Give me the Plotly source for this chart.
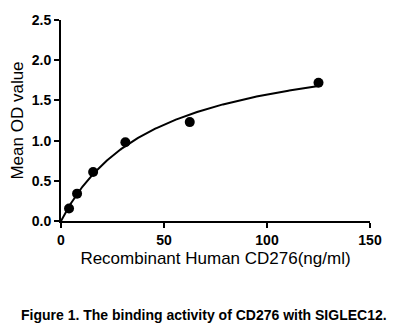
import numpy as np
import plotly.graph_objects as go

# Data
conc = [3.9, 7.8, 15.6, 31.25, 62.5, 125.0]
od = [0.155, 0.34, 0.61, 0.98, 1.23, 1.72]
x_ticks = [0, 50, 100, 150]
y_ticks = [0.0, 0.5, 1.0, 1.5, 2.0, 2.5]
y_tick_text = ["0.0", "0.5", "1.0", "1.5", "2.0", "2.5"]

# One-site binding fit (Bmax*x/(Kd+x)) via least squares grid over Kd
xs = np.array(conc)
ys = np.array(od)
best = None
for kd in np.linspace(1, 200, 4000):
    f = xs / (kd + xs)
    bmax = (f @ ys) / (f @ f)
    err = np.sum((bmax * f - ys) ** 2)
    if best is None or err < best[0]:
        best = (err, kd, bmax)
_, KD, BMAX = best
xc = np.linspace(0, max(conc), 300)
yc = BMAX * xc / (KD + xc)

fig = go.Figure()
fig.add_trace(go.Scatter(x=xc, y=yc, mode="lines",
                         line=dict(color="black", width=2), hoverinfo="skip"))
fig.add_trace(go.Scatter(x=conc, y=od, mode="markers",
                         marker=dict(color="black", size=10)))

font = "Liberation Sans, Arial, sans-serif"
fig.update_layout(
    width=408, height=329,
    margin=dict(l=61, r=38, t=15, b=108),
    paper_bgcolor="white", plot_bgcolor="white",
    showlegend=False,
    font=dict(family=font, color="black"),
    xaxis=dict(range=[0, 150], tickvals=x_ticks, showgrid=False, zeroline=False,
               showline=True, linecolor="black", linewidth=2,
               ticks="outside", tickwidth=2, ticklen=5, tickcolor="black",
               tickfont=dict(size=14, family=font, weight="bold"),
               title=dict(text="Recombinant Human CD276(ng/ml)",
                          font=dict(size=17, family=font), standoff=5)),
    yaxis=dict(range=[0, 2.5], tickvals=y_ticks, ticktext=y_tick_text,
               showgrid=False, zeroline=False,
               showline=True, linecolor="black", linewidth=2,
               ticks="outside", tickwidth=2, ticklen=5, tickcolor="black",
               tickfont=dict(size=14, family=font, weight="bold"),
               title=dict(text="Mean OD value",
                          font=dict(size=17, family=font), standoff=4)),
    annotations=[dict(text="<b>Figure 1. The binding activity of CD276 with SIGLEC12.</b>",
                      xref="paper", yref="paper", x=0.5, y=-0.47,
                      xanchor="center", yanchor="middle", showarrow=False,
                      font=dict(size=14, family=font, color="black"),
                      xshift=-12)],
)
fig.write_html("out.html")
